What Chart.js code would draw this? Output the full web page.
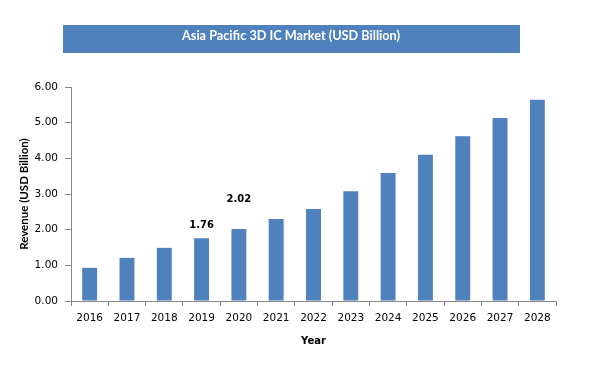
<!DOCTYPE html>
<html>
<head>
<meta charset="utf-8">
<script src="https://cdn.jsdelivr.net/npm/chart.js@4.4.1/dist/chart.umd.min.js"></script>
<style>
  html, body { margin: 0; padding: 0; background: #fff; }
  #wrap { width: 598px; height: 378px; position: relative; }
</style>
</head>
<body>
<div id="wrap"><canvas id="chart"></canvas></div>
<script>
// data
const years = ['2016','2017','2018','2019','2020','2021','2022','2023','2024','2025','2026','2027','2028']
const revenue = [0.93, 1.21, 1.49, 1.76, 2.02, 2.30, 2.58, 3.08, 3.59, 4.10, 4.62, 5.13, 5.64]
const labelledYears = ['2019', '2020']

const chartTitle = 'Asia Pacific 3D IC Market (USD Billion)'
const blue = '#4f81bd'
const axisGrey = '#868686'

// blue banner with the title in it
const titleBanner = {
    id: 'titleBanner',
    beforeDraw(chart){
        const ctx = chart.ctx
        ctx.save()
        ctx.fillStyle = blue
        ctx.fillRect(63, 25, 457, 28)
        ctx.fillStyle = '#ffffff'
        ctx.font = 'bold 12.7px Lato'
        ctx.textAlign = 'center'
        ctx.textBaseline = 'middle'
        ctx.fillText(chartTitle, 291, 36)
        ctx.restore()
    }
}

// only two bars carry a value label, and they sit at different heights
const labelLift = {'2019': 13, '2020': 30}
const valueLabels = {
    id: 'valueLabels',
    afterDatasetsDraw(chart){
        const ctx = chart.ctx
        const bars = chart.getDatasetMeta(0).data
        ctx.save()
        ctx.fillStyle = '#000'
        ctx.font = 'bold 10px "DejaVu Sans"'
        ctx.textAlign = 'center'
        ctx.textBaseline = 'middle'
        labelledYears.forEach(y => {
            const i = years.indexOf(y)
            const bar = bars[i]
            ctx.fillText(revenue[i].toFixed(2), bar.x, bar.y - labelLift[y])
        })
        ctx.restore()
    }
}

const config = {
    type: 'bar',
    data: {
        labels: years,
        datasets: [{
            label: 'Revenue',
            data: revenue,
            backgroundColor: blue,
            barPercentage: 0.8,
            categoryPercentage: 0.5
        }]
    },
    options: {
        responsive: false,
        animation: false,
        layout: { padding: { top: 87, right: 42, left: 0, bottom: 0 } },
        plugins: {
            legend: { display: false },
            tooltip: { enabled: false }
        },
        scales: {
            x: {
                grid: {
                    display: true,
                    drawOnChartArea: false,
                    drawTicks: true,
                    tickLength: 5,
                    color: axisGrey,
                    offset: true
                },
                border: { color: axisGrey, width: 1 },
                ticks: {
                    color: '#000',
                    font: { family: 'DejaVu Sans', size: 10.5 },
                    maxRotation: 0,
                    padding: 6
                },
                title: {
                    display: true,
                    text: 'Year',
                    color: '#000',
                    font: { family: 'DejaVu Sans', size: 10, weight: 'bold' },
                    padding: { top: 6, bottom: 31 }
                },
                afterFit(scale){ scale.height = 77 }
            },
            y: {
                min: 0,
                max: 6,
                grid: {
                    display: true,
                    drawOnChartArea: false,
                    drawTicks: true,
                    tickLength: 6,
                    color: axisGrey
                },
                border: { color: axisGrey, width: 1 },
                ticks: {
                    stepSize: 1,
                    color: '#000',
                    font: { family: 'DejaVu Sans', size: 10.5 },
                    padding: 7,
                    callback: v => v.toFixed(2)
                },
                title: {
                    display: true,
                    text: 'Revenue (USD Billion)',
                    color: '#000',
                    font: { family: 'Lato', size: 11.5, weight: 'bold' },
                    padding: { top: 17, bottom: 0 }
                },
                afterFit(scale){ scale.width = 71 }
            }
        }
    },
    plugins: [titleBanner, valueLabels]
}

const canvas = document.querySelector('#chart')
canvas.width = 598
canvas.height = 378
const chart = new Chart(canvas, config)
</script>
</body>
</html>
